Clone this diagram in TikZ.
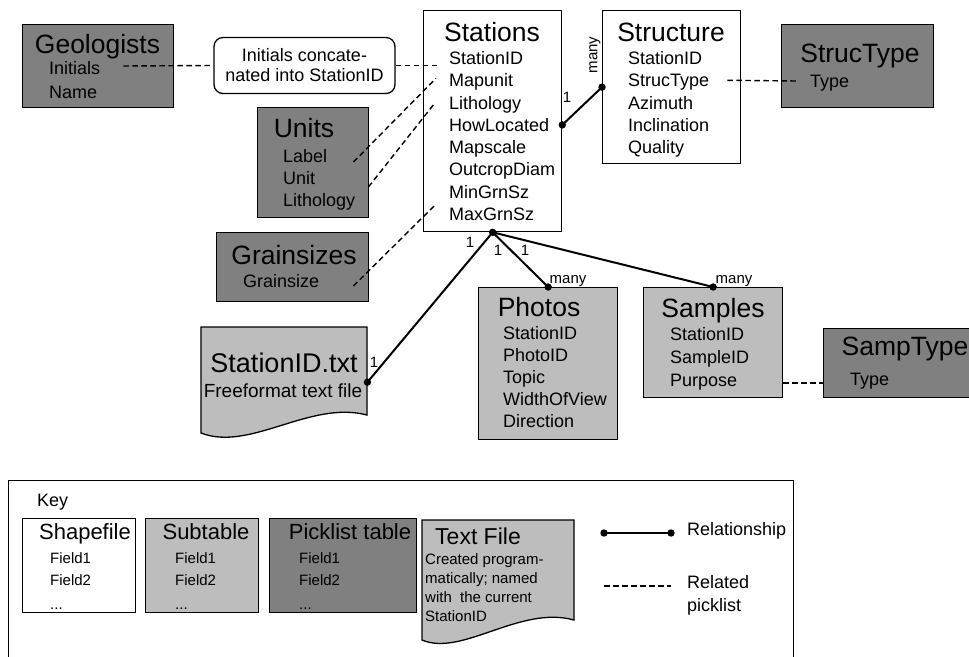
\documentclass[tikz,border=0pt]{standalone}
\usepackage{fontspec}
\setmainfont{Liberation Sans}
\usetikzlibrary{calc}
\definecolor{pickgray}{RGB}{128,128,128}
\definecolor{subgray}{RGB}{189,189,189}
\tikzset{
	tbl/.style={draw, line width=1.3pt, rectangle, inner sep=0pt, anchor=north west},
	ttl/.style={inner sep=0pt, font=\fontsize{26.5}{30}\selectfont, text height=19pt, text depth=0pt},
	fld/.style={inner sep=0pt, anchor=west, font=\fontsize{18}{21}\selectfont, text height=12.9pt, text depth=0pt},
	keyttl/.style={inner sep=0pt, font=\fontsize{22}{26}\selectfont, text height=15.8pt, text depth=0pt},
	keyfld/.style={inner sep=0pt, anchor=west, font=\fontsize{15}{19}\selectfont, text height=10.7pt, text depth=0pt},
	card/.style={inner sep=0pt, font=\fontsize{15}{18}\selectfont, text height=10.7pt, text depth=0pt},
	rel/.style={line width=2pt},
	pick/.style={line width=1.4pt, dash pattern=on 5.5pt off 3.5pt},
}

\begin{document}
\begin{tikzpicture}[x=1pt, y=-1pt]
	\useasboundingbox (0, 0) rectangle (969, 656);
	\clip (0, 0) rectangle (969, 656);

	% tables
	\node (geo) [tbl, fill=pickgray, minimum width=151, minimum height=83] at (22, 24) {};
	\node (initials) [draw, line width=1.3pt, rounded corners=9pt, fill=white, minimum width=181, minimum height=56, align=center, font=\fontsize{18}{20}\selectfont] at (304.5, 65.5) {Initials concate-\\nated into StationID};
	\node (stations) [tbl, fill=white, minimum width=138, minimum height=221] at (423, 10) {};
	\node (structure) [tbl, fill=white, minimum width=138, minimum height=153] at (602, 10) {};
	\node (structype) [tbl, fill=pickgray, minimum width=152, minimum height=83] at (781, 24) {};
	\node (units) [tbl, fill=pickgray, minimum width=111, minimum height=110] at (257, 107) {};
	\node (grain) [tbl, fill=pickgray, minimum width=152, minimum height=69] at (216, 232) {};
	\node (photos) [tbl, fill=subgray, minimum width=139, minimum height=152] at (478, 287) {};
	\node (samples) [tbl, fill=subgray, minimum width=139, minimum height=110] at (643, 287) {};
	\node (samptype) [tbl, fill=pickgray, minimum width=160, minimum height=69] at (823, 328) {};
	\draw[line width=1.3pt, fill=subgray] (201, 327) -- (367, 327) -- (367, 415) .. controls (310, 400) and (250, 452) .. (201, 433) -- cycle;
	\node (txtfile) [inner sep=0pt, anchor=north west, minimum width=166, minimum height=110] at (201, 327) {};

	% titles
	\node (geo-t) [ttl] at (97.5, 44) {Geologists};
	\node (stations-t) [ttl] at (492, 32) {Stations};
	\node (structure-t) [ttl] at (671, 32) {Structure};
	\node (structype-t) [ttl] at (860, 53) {StrucType};
	\node (units-t) [ttl] at (304, 128) {Units};
	\node (grain-t) [ttl] at (294, 255) {Grainsizes};
	\node (photos-t) [ttl] at (539, 307) {Photos};
	\node (samples-t) [ttl] at (713, 308) {Samples};
	\node (samptype-t) [ttl] at (905, 346) {SampType};
	\node (txtfile-t) [ttl, font=\fontsize{27}{30}\selectfont] at (284, 363) {StationID.txt};
	\node (txtfile-d) [inner sep=0pt, font=\fontsize{19}{22}\selectfont, text height=13.6pt, text depth=0pt] at (283, 391) {Freeformat text file};

	% fields
	\foreach \f [count=\i from 0] in {Initials, Name}
		\node (geo-\f) [fld] at (49, {68+24*\i}) {\f};
	\foreach \f [count=\i from 0] in {StationID, Mapunit, Lithology, HowLocated, Mapscale, OutcropDiam, MinGrnSz, MaxGrnSz}
		\node (st-\f) [fld] at (449, {58+22.3*\i}) {\f};
	\foreach \f [count=\i from 0] in {StationID, StrucType, Azimuth, Inclination, Quality}
		\node (sr-\f) [fld] at (628, {58+22.3*\i}) {\f};
	\node (sy-Type) [fld] at (810, 81) {Type};
	\foreach \f [count=\i from 0] in {Label, Unit, Lithology}
		\node (un-\f) [fld] at (283, {156+22*\i}) {\f};
	\node (gr-Grainsize) [fld] at (243, 281) {Grainsize};
	\foreach \f [count=\i from 0] in {StationID, PhotoID, Topic, WidthOfView, Direction}
		\node (ph-\f) [fld] at (503, {333+22*\i}) {\f};
	\foreach \f [count=\i from 0] in {StationID, SampleID, Purpose}
		\node (sa-\f) [fld] at (670, {334+23*\i}) {\f};
	\node (sp-Type) [fld] at (850, 379) {Type};

	% picklist links
	\draw[pick] ($(geo-Initials.east)+(23, -2)$) -- (initials.west);
	\draw[pick] (initials.east) -- ($(initials.east -| st-StationID.west)+(-11, 0)$);
	\draw[pick] ($(un-Label.east)+(26, 6)$) -- ($(st-Mapunit.west)+(-13, -2)$);
	\draw[pick] ($(un-Unit.east)+(53, 9)$) -- ($(st-Lithology.west)+(-15, 1.5)$);
	\draw[pick] ($(gr-Grainsize.east)+(34, 5)$) -- ($(st-MaxGrnSz.west)+(-14, -9)$);
	\draw[pick] ($(sr-StrucType.east)+(18, 0)$) -- ($(sy-Type.west)+(-13, 0)$);
	\draw[pick] ($(samples.east |- sa-Purpose.west)+(0, 3)$) -- ($(samptype.west |- sa-Purpose.west)+(0, 3)$);

	% relationships
	\draw[rel] (st-HowLocated -| stations.east) -- (structure.west);
	\draw[rel] (stations.south) -- (photos.north);
	\draw[rel] (stations.south) -- (samples.north);
	\draw[rel] (stations.south) -- (txtfile.east);
	\foreach \p in {st-HowLocated -| stations.east, structure.west, stations.south, photos.north, samples.north, txtfile.east}
		\fill (\p) circle (3.7pt);
	\node (c1) [card] at (567, 97) {1};
	\node (c2) [card, rotate=90] at (592, 55) {many};
	\node (c3) [card] at (470, 242) {1};
	\node (c4) [card] at (498, 250) {1};
	\node (c5) [card] at (525, 250) {1};
	\node (c6) [card] at (374, 362) {1};
	\node (c7) [card] at (568, 278) {many};
	\node (c8) [card] at (734, 278) {many};

	% key
	\node (keybox) [tbl, minimum width=785, minimum height=200] at (8, 480) {};
	\node (key-t) [fld, font=\fontsize{18}{21}\selectfont] at (37, 500) {Key};
	\node (shp) [tbl, fill=white, minimum width=113, minimum height=94] at (22, 518) {};
	\node (sub) [tbl, fill=subgray, minimum width=113, minimum height=94] at (145, 518) {};
	\node (pkl) [tbl, fill=pickgray, minimum width=147, minimum height=94] at (269, 518) {};
	\draw[line width=1.3pt, fill=subgray] (422, 520) -- (574, 520) -- (574, 620) .. controls (520, 605) and (462, 657) .. (422, 640) -- cycle;
	\node (shp-t) [keyttl] at (85, 532) {Shapefile};
	\node (sub-t) [keyttl] at (206, 532) {Subtable};
	\node (pkl-t) [keyttl] at (350, 532) {Picklist table};
	\node (txt-t) [keyttl, font=\fontsize{23}{26}\selectfont] at (478, 537) {Text File};
	\foreach \n/\x in {shp/50, sub/175, pkl/299} {
		\node (\n-f1) [keyfld] at (\x, 558) {Field1};
		\node (\n-f2) [keyfld] at (\x, 580) {Field2};
		\node (\n-f3) [keyfld] at (\x, 604) {...};
	}
	\node (txt-d) [inner sep=0pt, anchor=north west, align=left, font=\fontsize{15}{19}\selectfont] at (425, 553) {Created program-\\matically; named\\with\ \ the current\\StationID};
	\coordinate (rel-a) at (604, 533);
	\coordinate (rel-b) at (671, 533);
	\coordinate (pick-a) at (604, 586);
	\coordinate (pick-b) at (671, 586);
	\draw[rel] (rel-a) -- (rel-b);
	\fill (rel-a) circle (3.7pt) (rel-b) circle (3.7pt);
	\draw[pick] (pick-a) -- (pick-b);
	\node (rel-l) [fld] at (687, 529) {Relationship};
	\node (pick-l) [inner sep=0pt, anchor=north west, align=left, font=\fontsize{18}{23}\selectfont] at (687, 575) {Related\\picklist};
\end{tikzpicture}
\end{document}
